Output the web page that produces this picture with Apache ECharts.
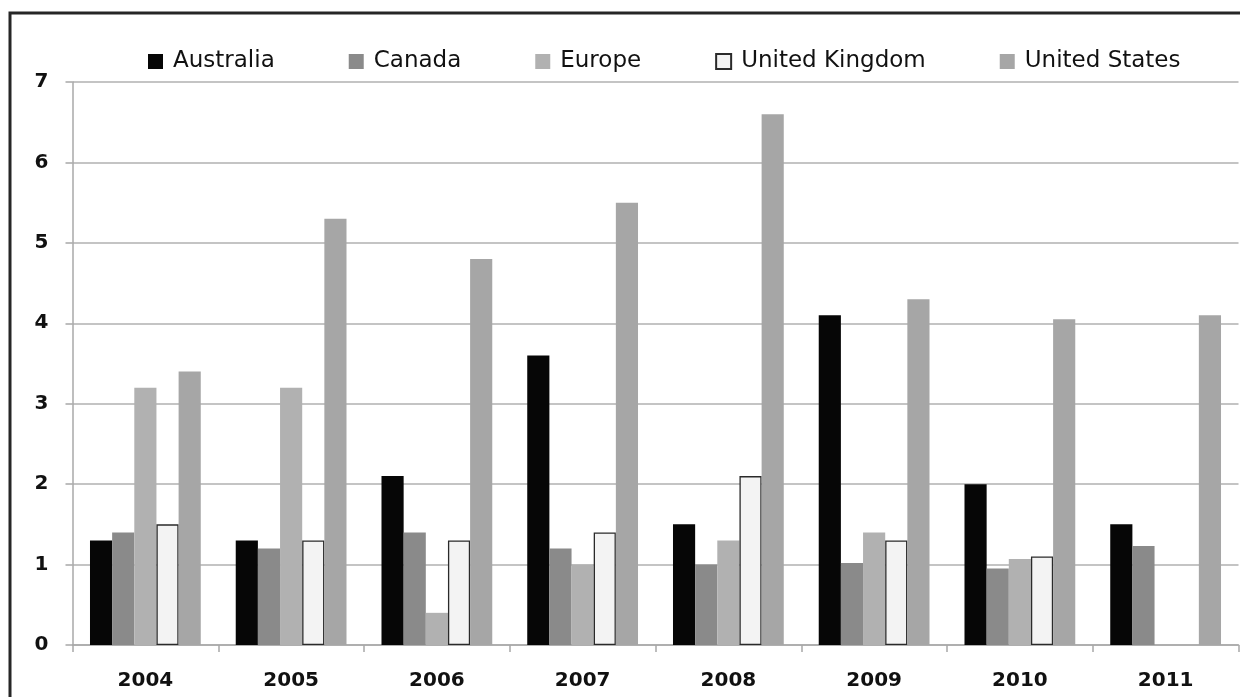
<!DOCTYPE html>
<html>
<head>
<meta charset="utf-8">
<script src="https://cdn.jsdelivr.net/npm/echarts@6/dist/echarts.min.js"></script>
<style>
html,body{margin:0;padding:0;background:#fff;}
#chart{width:1240px;height:697px;}
</style>
</head>
<body>
<div id="chart"></div>
<script>
const categories = ['2004','2005','2006','2007','2008','2009','2010','2011'];
const australia = [1.3, 1.3, 2.1, 3.6, 1.5, 4.1, 2.0, 1.5];
const canada = [1.4, 1.2, 1.4, 1.2, 1.0, 1.02, 0.95, 1.23];
const europe = [3.2, 3.2, 0.4, 1.0, 1.3, 1.4, 1.07, null];
const unitedKingdom = [1.5, 1.3, 1.3, 1.4, 2.1, 1.3, 1.1, null];
const unitedStates = [3.4, 5.3, 4.8, 5.5, 6.6, 4.3, 4.05, 4.1];
const yTicks = [0, 1, 2, 3, 4, 5, 6, 7];

const chart = echarts.init(document.getElementById('chart'), null, {renderer: 'canvas'});

function bar(name, data, color, border) {
  return {
    name: name,
    type: 'bar',
    data: data,
    barGap: '0%',
    barCategoryGap: '24%',
    itemStyle: border ? {color: color, borderColor: '#2a2a2a', borderWidth: 1.3} : {color: color},
    emphasis: {disabled: true}
  };
}

chart.setOption({
  animation: false,
  backgroundColor: '#ffffff',
  graphic: [{
    type: 'rect',
    shape: {x: 10, y: 13, width: 1240, height: 700},
    style: {fill: 'none', stroke: '#262626', lineWidth: 3},
    silent: true
  }],
  legend: {
    left: 143,
    top: 45,
    itemWidth: 15,
    itemHeight: 15,
    itemGap: 74,
    icon: 'rect',
    textStyle: {fontFamily: 'DejaVu Sans', fontSize: 23, color: '#111', padding: [0, 0, 0, 5]},
    data: ['Australia', 'Canada', 'Europe', 'United Kingdom', 'United States']
  },
  grid: {left: 72.5, right: 1.5, top: 82, bottom: 52, containLabel: false},
  xAxis: {
    type: 'category',
    data: categories,
    axisLine: {lineStyle: {color: '#a8a8a8', width: 1.5}},
    axisTick: {show: true, length: 7, lineStyle: {color: '#a8a8a8', width: 1.5}},
    axisLabel: {margin: 26, fontFamily: 'DejaVu Sans', fontWeight: 'bold', fontSize: 20, color: '#111'}
  },
  yAxis: {
    type: 'value',
    min: yTicks[0],
    max: yTicks[yTicks.length - 1],
    interval: 1,
    axisLine: {show: true, lineStyle: {color: '#a8a8a8', width: 1.5}},
    axisTick: {show: true, length: 7, lineStyle: {color: '#a8a8a8', width: 1.5}},
    splitLine: {show: true, lineStyle: {color: '#b0b0b0', width: 1.6}},
    axisLabel: {margin: 24, fontFamily: 'DejaVu Sans', fontWeight: 'bold', fontSize: 20, color: '#111'}
  },
  series: [
    bar('Australia', australia, '#060606', false),
    bar('Canada', canada, '#8a8a8a', false),
    bar('Europe', europe, '#b1b1b1', false),
    bar('United Kingdom', unitedKingdom, '#f3f3f3', true),
    bar('United States', unitedStates, '#a6a6a6', false)
  ]
});
</script>
</body>
</html>
